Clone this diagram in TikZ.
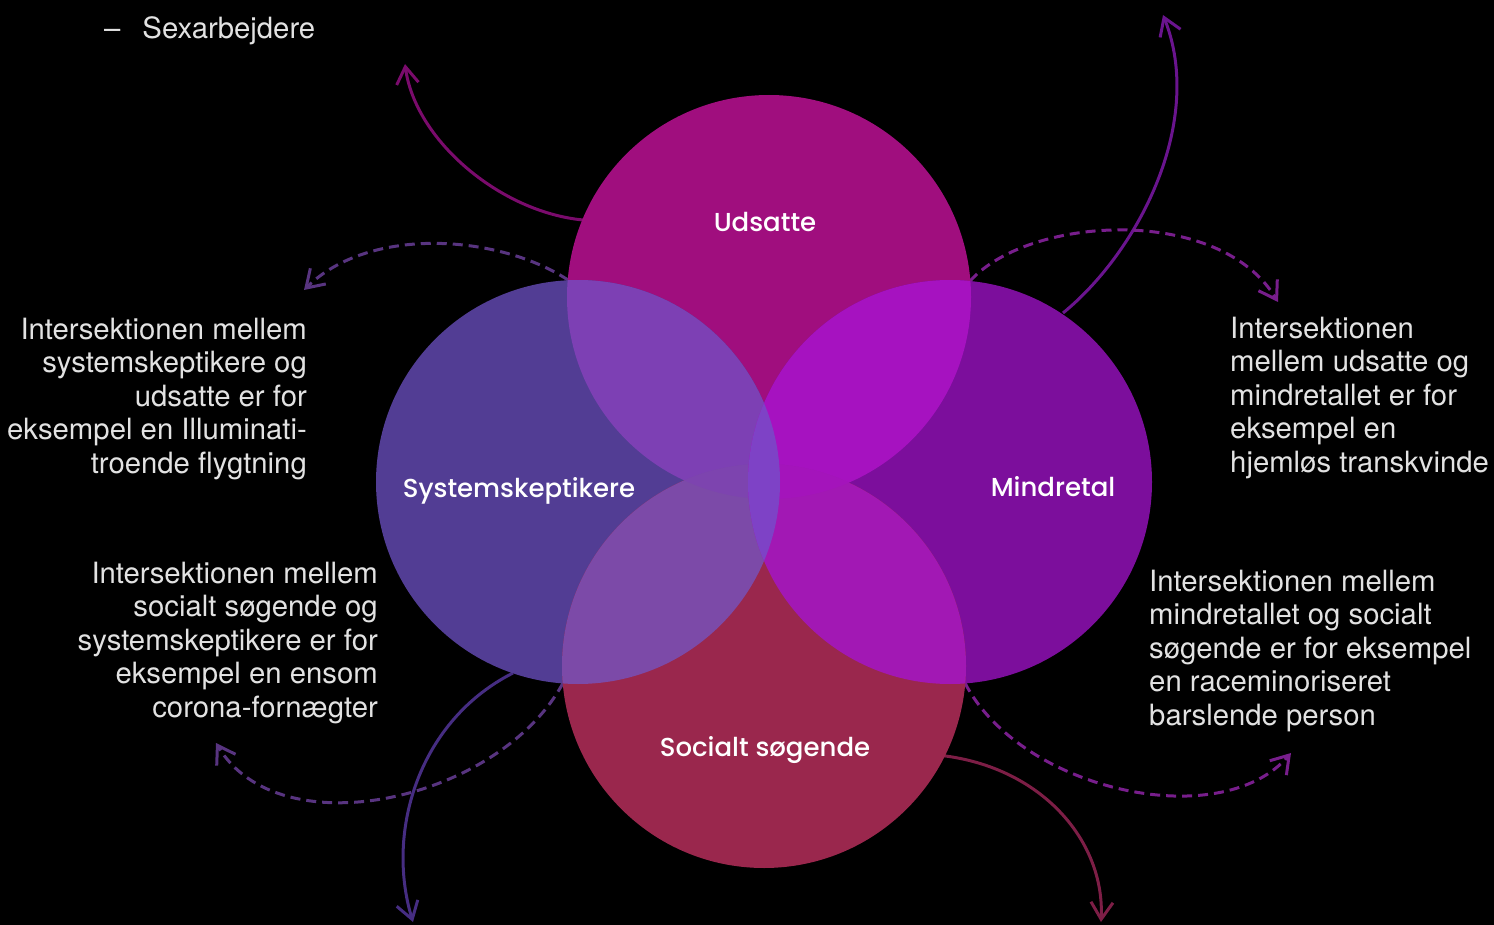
\documentclass[tikz,border=0pt]{standalone}
\usepackage{fontspec}
\setmainfont{TeX Gyre Heros}
\newfontfamily\labelfont{Poppins Medium}
\usetikzlibrary{arrows.meta, calc, positioning}

% circle fills and their overlaps
\definecolor{udsCol}{HTML}{A00E7E}
\definecolor{sysCol}{HTML}{523D94}
\definecolor{minCol}{HTML}{7C0E9C}
\definecolor{socCol}{HTML}{9A274D}
\definecolor{usCol}{HTML}{7D40B4}
\definecolor{umCol}{HTML}{A612C0}
\definecolor{ssCol}{HTML}{7C4AA8}
\definecolor{msCol}{HTML}{A218B4}
\definecolor{smCol}{HTML}{7E42C6}
% arrows and text
\definecolor{arrUds}{HTML}{7A0B6C}
\definecolor{arrSys}{HTML}{462D82}
\definecolor{arrMin}{HTML}{6A148E}
\definecolor{arrSoc}{HTML}{7D1E46}
\definecolor{dashL}{HTML}{583480}
\definecolor{dashR}{HTML}{781E8C}
\definecolor{bodyGray}{HTML}{E2E2E2}

\newcommand\circR{202}

\tikzset{
  circlelabel/.style={text=white, anchor=base, font=\labelfont\fontsize{26}{30}\selectfont},
  bodytext/.style={text=bodyGray, inner sep=0pt, font=\fontsize{29.3}{33.4}\selectfont},
  solidarrow/.style={->, line width=3pt},
  dashedarrow/.style={->, line width=3pt, dash pattern=on 10pt off 6pt},
}

\begin{document}
\begin{tikzpicture}[x=1pt, y=-1pt, >={Straight Barb[length=17pt,width=22pt]}]
    % --- Canvas ---
    \fill[black] (0,0) rectangle (1494,925);
    \useasboundingbox (0,0) rectangle (1494,925);

    % --- Circle centres ---
    \coordinate (cUds) at (769,297);
    \coordinate (cSys) at (578,482);
    \coordinate (cMin) at (950,482);
    \coordinate (cSoc) at (764,666);

    % --- Arrow ends ---
    \coordinate (udsOut) at (583,220);
    \coordinate (udsTip) at (405,64);
    \coordinate (usTop)  at (568,280);
    \coordinate (usTip)  at (304,290);
    \coordinate (minOut) at (1063,313);
    \coordinate (minTip) at (1163,15);
    \coordinate (umTop)  at (970,281);
    \coordinate (umTip)  at (1278,302);
    \coordinate (ssBot)  at (563,683);
    \coordinate (ssTip)  at (216,743);
    \coordinate (sysOut) at (513,673);
    \coordinate (sysTip) at (413,922);
    \coordinate (msBot)  at (965,683);
    \coordinate (msTip)  at (1291,753);
    \coordinate (socOut) at (937,755);
    \coordinate (socTip) at (1101,922);

    % --- Arrows (behind the circles) ---
    \draw[solidarrow, arrUds] (udsOut) .. controls (500,212) and (415,140) .. (udsTip);
    \draw[dashedarrow, dashL] (usTop) .. controls (500,235) and (370,225) .. (usTip);
    \draw[solidarrow, arrMin] (minOut) .. controls (1140,250) and (1205,120) .. (minTip);
    \draw[dashedarrow, dashR] (umTop) .. controls (1030,215) and (1220,205) .. (umTip);
    \draw[dashedarrow, dashL] (ssBot) .. controls (500,800) and (280,850) .. (ssTip);
    \draw[solidarrow, arrSys] (sysOut) .. controls (420,720) and (385,830) .. (sysTip);
    \draw[dashedarrow, dashR] (msBot) .. controls (1020,790) and (1220,835) .. (msTip);
    \draw[solidarrow, arrSoc] (socOut) .. controls (1040,765) and (1105,840) .. (socTip);

    % --- Circles ---
    \fill[udsCol] (cUds) circle (\circR);
    \fill[sysCol] (cSys) circle (\circR);
    \fill[minCol] (cMin) circle (\circR);
    \fill[socCol] (cSoc) circle (\circR);

    % --- Overlaps ---
    \begin{scope}
      \clip (cUds) circle (\circR);
      \fill[usCol] (cSys) circle (\circR);
      \fill[umCol] (cMin) circle (\circR);
    \end{scope}
    \begin{scope}
      \clip (cSoc) circle (\circR);
      \fill[ssCol] (cSys) circle (\circR);
      \fill[msCol] (cMin) circle (\circR);
    \end{scope}
    \begin{scope}
      \clip (cUds) circle (\circR);
      \clip (cSoc) circle (\circR);
      \fill[usCol!60!ssCol] (cSys) circle (\circR);
      \fill[umCol!60!msCol] (cMin) circle (\circR);
    \end{scope}
    \begin{scope}
      \clip (cSys) circle (\circR);
      \fill[smCol] (cMin) circle (\circR);
    \end{scope}

    % --- Circle labels ---
    \node[circlelabel] (udsatte) at (765,232) {Udsatte};
    \node[circlelabel] (system) at (519,497) {Systemskeptikere};
    \node[circlelabel] (mindretal) at (1053,496) {Mindretal};
    \node[circlelabel] (socialt) at (765,756) {Socialt søgende};

    % --- Texts ---
    \node[bodytext, anchor=west] (sexarb) at (104,31) {–\hspace{22pt}Sexarbejdere};
    \node[bodytext, anchor=north east, align=right] (txtUS) at (307,318)
      {Intersektionen mellem\\systemskeptikere og\\udsatte er for\\eksempel en Illuminati-\\troende flygtning};
    \node[bodytext, anchor=north east, align=right] (txtSS) at (378,562)
      {Intersektionen mellem\\socialt søgende og\\systemskeptikere er for\\eksempel en ensom\\corona-fornægter};
    \node[bodytext, anchor=north west, align=left] (txtUM) at (1230,317)
      {Intersektionen\\mellem udsatte og\\mindretallet er for\\eksempel en\\hjemløs transkvinde};
    \node[bodytext, anchor=north west, align=left] (txtMS) at (1149,570)
      {Intersektionen mellem\\mindretallet og socialt\\søgende er for eksempel\\en raceminoriseret\\barslende person};
\end{tikzpicture}
\end{document}
